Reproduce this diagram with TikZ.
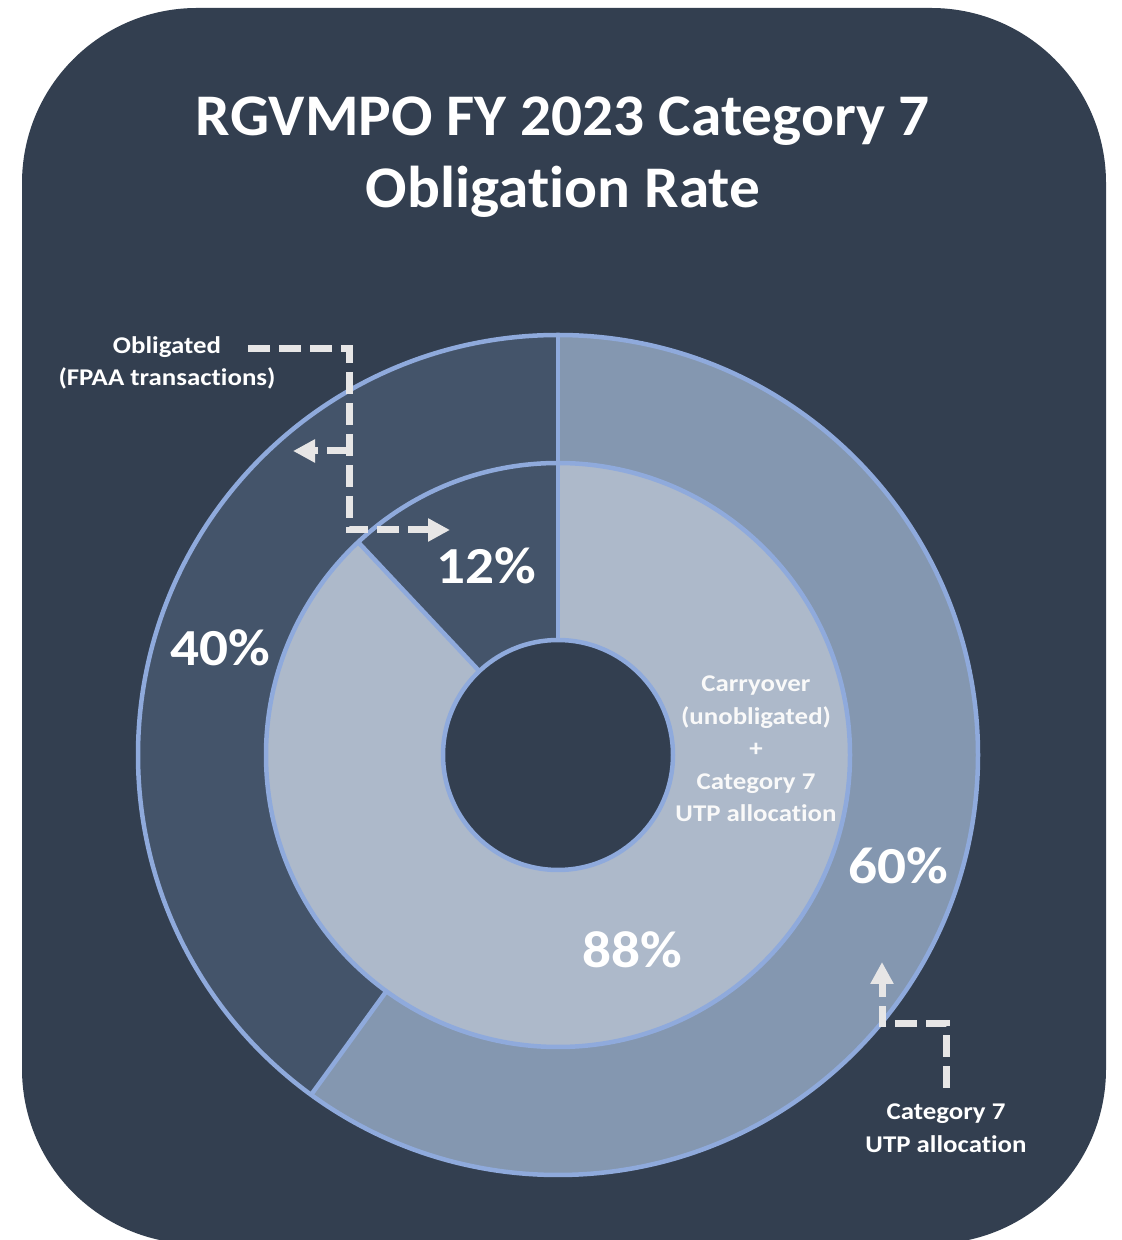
\documentclass[tikz,border=0pt]{standalone}
\usepackage{fontspec}
\setmainfont{Carlito}[Ligatures=NoCommon]
\newfontfamily\titlefont{Carlito}[Ligatures=NoCommon,FakeStretch=1.04]
\newfontfamily\pctfont{Carlito}[Ligatures=NoCommon,FakeStretch=1.1]
\newfontfamily\smallfont{Carlito}[Ligatures=NoCommon,FakeStretch=1.12]
\usetikzlibrary{arrows.meta}
\definecolor{bg}{HTML}{333F50}
\definecolor{odark}{HTML}{44546A}
\definecolor{olight}{HTML}{8497B0}
\definecolor{ilight}{HTML}{ADB9CA}
\definecolor{edge}{HTML}{8FAADC}
\definecolor{annc}{HTML}{E7E6E6}
\newcommand\ringseg[5]{%
  \fill[#5] (#1:#4) arc[start angle=#1, end angle=#2, radius=#4]
    -- (#2:#3) arc[start angle=#2, end angle=#1, radius=#3] -- cycle;}
\begin{document}
\begin{tikzpicture}[x=1pt,y=1pt,
  border/.style={draw=edge, line width=4.5pt},
  titletext/.style={text=white, align=center, inner sep=0pt,
    font=\titlefont\fontsize{59}{72}\selectfont\bfseries},
  pct/.style={text=white, inner sep=0pt, font=\pctfont\fontsize{52}{60}\selectfont\bfseries},
  small/.style={text=white, align=center, inner sep=0pt,
    font=\smallfont\fontsize{24}{32.5}\selectfont\bfseries},
  ann/.style={draw=annc, line width=7pt, dash pattern=on 22pt off 9pt},
  anntip/.style={ann, -{Triangle[length=22pt,width=22pt,fill=annc]}}]
\useasboundingbox (0,0) rectangle (1122,1240);
\fill[white] (0,0) rectangle (1122,1240);
\begin{scope}
  \clip (0,0) rectangle (1122,1240);
  \fill[bg, rounded corners=175pt] (22,-4) rectangle (1106,1232);
\end{scope}
% donut
\coordinate (C) at (558,485);
\begin{scope}[shift={(C)}]
  \ringseg{-126}{90}{292}{420}{olight}
  \ringseg{90}{234}{292}{420}{odark}
  \ringseg{90}{133.2}{115}{292}{odark}
  \ringseg{133.2}{450}{115}{292}{ilight}
  \fill[bg] (0,0) circle[radius=115];
  \draw[border] (0,0) circle[radius=420];
  \draw[border] (0,0) circle[radius=292];
  \draw[border] (0,0) circle[radius=115];
  \draw[border] (90:115) -- (90:420);
  \draw[border] (234:292) -- (234:420);
  \draw[border] (133.2:115) -- (133.2:292);
\end{scope}
% title
\node[titletext] (title) at (563,1083) {RGVMPO FY 2023 Category 7\\Obligation Rate};
% percentages
\node[pct] (p12) at (486,674) {12\%};
\node[pct] (p40) at (220,592) {40\%};
\node[pct] (p60) at (898,374) {60\%};
\node[pct] (p88) at (632,290) {88\%};
% labels
\node[small] (lobl) at (167,877) {Obligated\\(FPAA transactions)};
\node[small, text=white!95!gray] (lcarry) at (756,491) {Carryover\\(unobligated)\\+\\Category 7\\UTP allocation};
\node[small] (lutp) at (946,112) {Category 7\\UTP allocation};
% annotation arrows
\coordinate (a1s) at (248,891);
\coordinate (a1c) at (349,891);
\coordinate (a1d) at (349,710);
\coordinate (a1t) at (450,710);
\coordinate (a1b) at (349,789);
\coordinate (a1bt) at (293,789);
\draw[anntip] (a1s) -- (a1c) -- (a1d) -- (a1t);
\draw[anntip] (a1b) -- (a1bt);
\coordinate (a2s) at (946,152);
\coordinate (a2c) at (946,216);
\coordinate (a2d) at (882,216);
\coordinate (a2t) at (882,278);
\draw[anntip] (a2s) -- (a2c) -- (a2d) -- (a2t);
\end{tikzpicture}
\end{document}
